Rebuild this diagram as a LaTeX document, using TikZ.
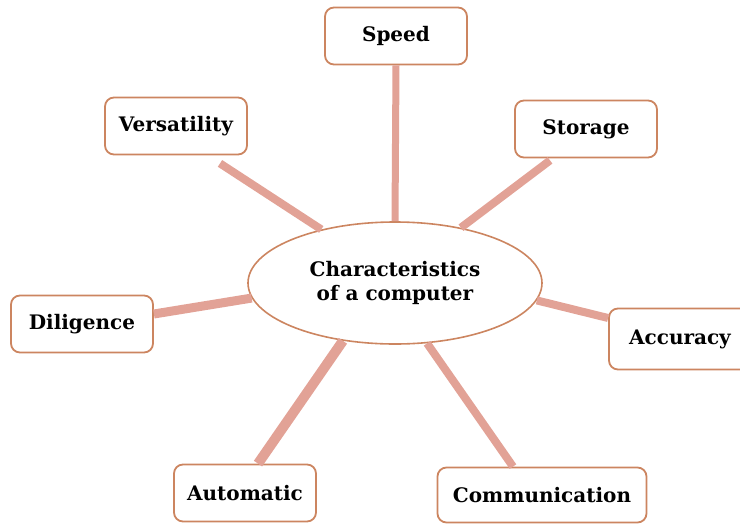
\documentclass[tikz,border=0pt]{standalone}
\usepackage{fontspec}
\setmainfont{DejaVu Serif}
\usepackage{tikz}
\usetikzlibrary{shapes.geometric, positioning}
\definecolor{boxline}{RGB}{204,133,96}
\definecolor{linkpink}{RGB}{226,162,150}
\tikzset{
x=1pt, y=-1pt, % one unit is one pixel of the drawing
trait/.style={draw=boxline, line width=1.8pt, rounded corners=9pt, fill=white,
  minimum width=142pt, minimum height=57pt, inner sep=0pt,
  font=\bfseries\fontsize{20}{24}\selectfont}, % the boxes round the middle
hub/.style={ellipse, draw=boxline, line width=1.6pt, fill=white,
  minimum width=294pt, minimum height=122pt, inner sep=0pt, align=center,
  font=\bfseries\fontsize{20}{24}\selectfont}, % the middle
link/.style={draw=linkpink, line width=8pt}, % thick spokes
}

\begin{document}
\begin{tikzpicture}
\useasboundingbox (0,0) rectangle (740,523);
\node[hub] (char) at (395,283) {Characteristics\\of a computer};
\node[trait] (speed) at (396,36) {Speed};
\node[trait] (vers) at (176,126) {Versatility};
\node[trait] (stor) at (586,129) {Storage};
\node[trait] (dil) at (82,324) {Diligence};
\node[trait, minimum height=61pt] (acc) at (680,339) {Accuracy};
\node[trait] (auto) at (245,493) {Automatic};
\node[trait, minimum width=209pt, minimum height=55pt] (comm) at (542,495) {Communication};
\draw[link, line width=7pt] (char.north) -- (speed.south);
\draw[link] (char.144) -- ([xshift=44pt, yshift=-8pt]vers.south);
\draw[link] (char.40) -- ([xshift=-36pt, yshift=-2pt]stor.south);
\draw[link, line width=9pt] (char.186) -- ([yshift=10pt]dil.east);
\draw[link] (char.-7.5) -- ([yshift=21pt]acc.west);
\draw[link, line width=10pt] (char.228) -- ([xshift=13pt]auto.north);
\draw[link] (char.298.5) -- ([xshift=-29pt]comm.north);
\end{tikzpicture}
\end{document}
